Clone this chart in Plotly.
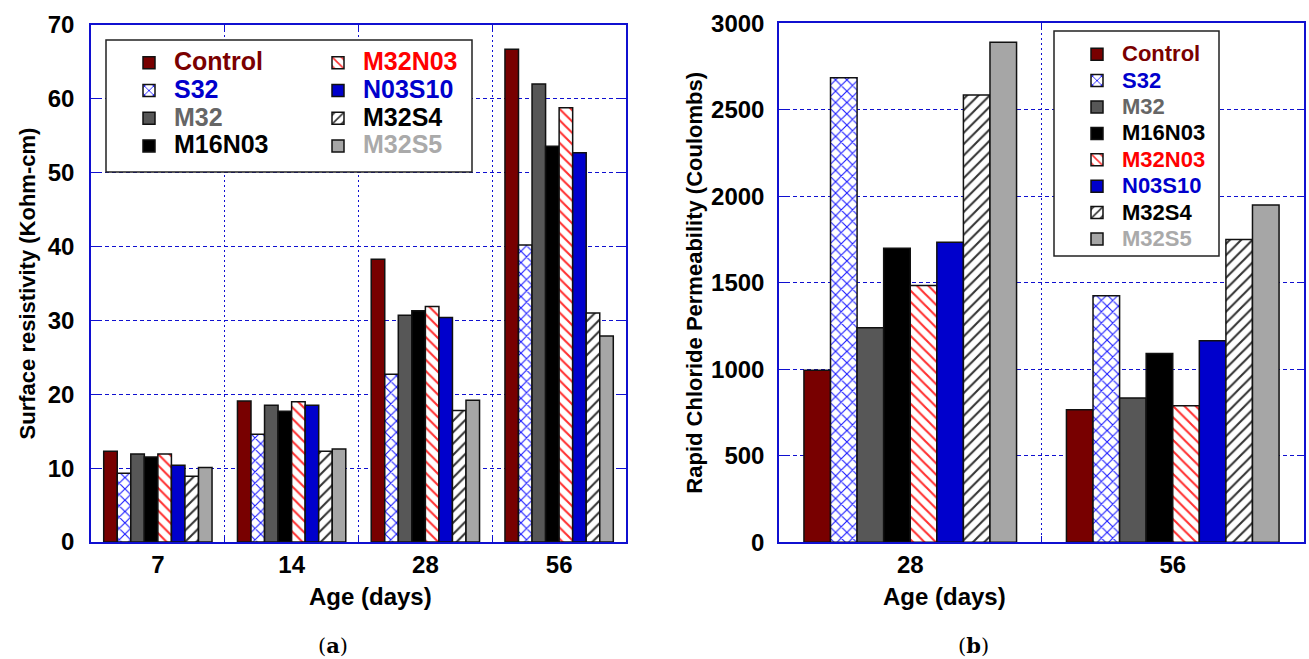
import plotly.graph_objects as go

# Categories
ages_a = ["7", "14", "28", "56"]
ages_b = ["28", "56"]
mixes = ["Control", "S32", "M32", "M16N03", "M32N03", "N03S10", "M32S4", "M32S5"]

# (a) Surface resistivity, kOhm-cm, at 7/14/28/56 days
control_sr = [12.3, 19.1, 38.3, 66.7]
s32_sr = [9.3, 14.6, 22.7, 40.2]
m32_sr = [11.9, 18.5, 30.7, 62.0]
m16n03_sr = [11.5, 17.7, 31.3, 53.6]
m32n03_sr = [11.9, 19.0, 31.9, 58.8]
n03s10_sr = [10.4, 18.5, 30.4, 52.7]
m32s4_sr = [8.9, 12.3, 17.8, 31.0]
m32s5_sr = [10.1, 12.6, 19.2, 27.9]

# (b) Rapid chloride permeability, Coulombs, at 28/56 days
control_rcp = [995, 766]
s32_rcp = [2685, 1425]
m32_rcp = [1240, 834]
m16n03_rcp = [1700, 1092]
m32n03_rcp = [1485, 790]
n03s10_rcp = [1735, 1165]
m32s4_rcp = [2585, 1750]
m32s5_rcp = [2890, 1950]

sr_series = [control_sr, s32_sr, m32_sr, m16n03_sr, m32n03_sr, n03s10_sr, m32s4_sr, m32s5_sr]
rcp_series = [control_rcp, s32_rcp, m32_rcp, m16n03_rcp, m32n03_rcp, n03s10_rcp, m32s4_rcp, m32s5_rcp]

# Styling per mix
fills = ["#780000", "white", "#575757", "#000000", "white", "#0000cc", "white", "#a6a6a6"]
pat_shapes = ["", "x", "", "", "\\", "", "/", ""]
pat_colors = ["#000000", "#1a1aff", "#000000", "#000000", "#ff3030", "#000000", "#333333", "#000000"]
text_colors = ["#7a0000", "#0000cc", "#666666", "#000000", "#ff0000", "#0000cc", "#000000", "#aaaaaa"]
left_legends = ["legend", "legend", "legend", "legend", "legend2", "legend2", "legend2", "legend2"]

W, H = 1309, 659
BLUE = "#1010d0"
FONT = "Liberation Sans"


def px(x):
    return x / W


def py(y):
    return 1 - y / H


fig = go.Figure()

for i, mix in enumerate(mixes):
    pattern = dict(shape=pat_shapes[i], fgcolor=pat_colors[i], bgcolor="white",
                   size=8, solidity=0.26, fillmode="replace")
    marker = dict(color=fills[i], line=dict(color="#111111", width=1.5), pattern=pattern)
    fig.add_trace(go.Bar(
        x=ages_a, y=sr_series[i], xaxis="x", yaxis="y", marker=marker,
        name=f"<span style='font-size:25px;color:{text_colors[i]}'><b>{mix}</b></span>",
        legend=left_legends[i],
    ))
    fig.add_trace(go.Bar(
        x=ages_b, y=rcp_series[i], xaxis="x2", yaxis="y2", marker=marker,
        name=f"<span style='font-size:22px;color:{text_colors[i]}'><b>{mix}</b></span>",
        legend="legend3",
    ))

axis_common = dict(
    showline=True, linecolor=BLUE, linewidth=1.5, mirror="ticks",
    ticks="inside", tickcolor=BLUE, ticklen=7, automargin=False,
    tickfont=dict(family=FONT, size=24, color="black", weight="bold"),
    zeroline=False,
)
grid_y = dict(showgrid=True, gridcolor=BLUE, gridwidth=1.2, griddash="4px,3px")
grid_x = dict(showgrid=True, gridcolor=BLUE, gridwidth=1.2, griddash="2px,3px")

fig.update_layout(
    width=W, height=H, margin=dict(l=0, r=0, t=0, b=0, autoexpand=False),
    paper_bgcolor="white", plot_bgcolor="white",
    barmode="group", bargap=0.19, bargroupgap=0,
    font=dict(family=FONT, color="black"),
    xaxis=dict(domain=[px(91), px(626)], anchor="y", type="category",
               tickson="boundaries", range=[-0.5, 3.5], **axis_common, **grid_x),
    yaxis=dict(domain=[py(542), py(25)], anchor="x", range=[0, 70], dtick=10,
               ticklabelstandoff=10, **axis_common, **grid_y,
               title=dict(text="<b>Surface resistivity (Kohm-cm)</b>",
                          font=dict(family=FONT, size=22), standoff=6)),
    xaxis2=dict(domain=[px(779), px(1304)], anchor="y2", type="category",
                tickson="boundaries", range=[-0.5, 1.5], **axis_common, **grid_x),
    yaxis2=dict(domain=[py(542.3), py(23.3)], anchor="x2", range=[0, 3000], dtick=500,
                ticklabelstandoff=8, **axis_common, **grid_y,
                title=dict(text="<b>Rapid Chloride Permeability (Coulombs)</b>",
                           font=dict(family=FONT, size=22), standoff=2)),
    legend=dict(x=px(124), y=py(44), xanchor="left", yanchor="top",
                bgcolor="rgba(0,0,0,0)", borderwidth=0, font=dict(size=19),
                tracegroupgap=0, itemwidth=40, itemclick=False),
    legend2=dict(x=px(313), y=py(44), xanchor="left", yanchor="top",
                 bgcolor="rgba(0,0,0,0)", borderwidth=0, font=dict(size=19),
                 tracegroupgap=0, itemwidth=40, itemclick=False),
    legend3=dict(x=px(1072), y=py(36), xanchor="left", yanchor="top",
                 bgcolor="rgba(0,0,0,0)", borderwidth=0, font=dict(size=18),
                 tracegroupgap=0, itemwidth=40, itemclick=False),
    showlegend=True,
)

# Legend frames
fig.add_shape(type="rect", xref="paper", yref="paper",
              x0=px(106), x1=px(472), y0=py(172), y1=py(40),
              fillcolor="white", line=dict(color="#222222", width=1.5), layer="above")
fig.add_shape(type="rect", xref="paper", yref="paper",
              x0=px(1054), x1=px(1219), y0=py(256), y1=py(31),
              fillcolor="white", line=dict(color="#222222", width=1.5), layer="above")

# Axis titles under the category labels, and panel captions
for xc, cap, capx in [(307, "(a)", 316), (1008, "(b)", 991)]:
    fig.add_annotation(text="<b>Age (days)</b>", xref="paper", yref="paper",
                       x=px(xc), y=py(596), yanchor="middle", showarrow=False,
                       font=dict(family=FONT, size=24, color="black"))
    fig.add_annotation(text=cap.replace(cap[1], f"<b>{cap[1]}</b>"), xref="paper", yref="paper",
                       x=px(capx), y=py(645), yanchor="middle", showarrow=False,
                       font=dict(family="DejaVu Serif", size=21, color="black"))

fig.write_html("out.html")
